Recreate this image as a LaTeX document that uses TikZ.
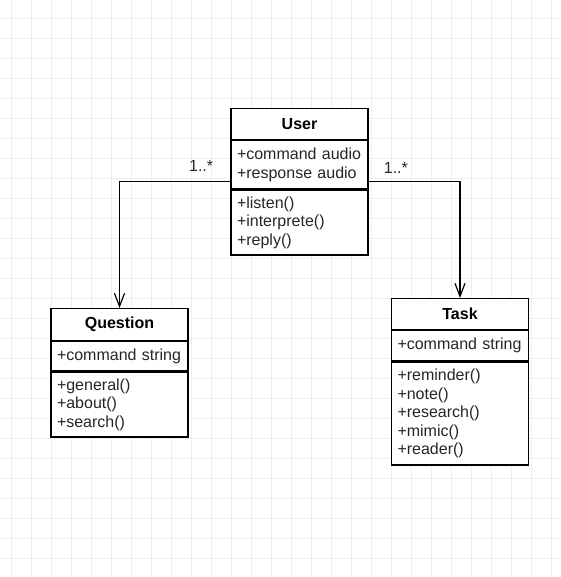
\documentclass[tikz,border=0pt]{standalone}
\usepackage{fontspec}
\setmainfont{Liberation Sans}
\usetikzlibrary{arrows.meta,positioning,fit}

\begin{document}
\begin{tikzpicture}[x=0.75pt,y=-0.75pt,node distance=0pt,
    >={Straight Barb[length=9.75pt,width=7.5pt]},
    font=\fontsize{12pt}{13.8pt}\selectfont,
    gridline/.style={gray!13,line width=0.6pt},
    classtitle/.style={draw,line width=0.9pt,fill=white,minimum width=102.75pt,
      inner sep=0pt,font=\fontsize{12pt}{13.8pt}\selectfont\bfseries},
    classpart/.style={draw,line width=0.9pt,fill=white,text width=93.75pt,
      inner xsep=4.5pt,inner ysep=0pt,align=left,text=black!85},
    assoc/.style={->,line width=0.9pt},
    mult/.style={anchor=base,inner sep=0pt,text=black!85}]
    %% background and grid
    \useasboundingbox (0,0) rectangle (560,577);
    \fill[white] (0,0) rectangle (560,577);
    \foreach \k in {0,...,27} {
      \draw[gridline] (11.7+20*\k,0) -- (11.7+20*\k,577);
      \draw[gridline] (0,18.3+20*\k) -- (560,18.3+20*\k);
    }
    %% classes
    \node (user) [classtitle, minimum height=23.25pt, anchor=north] at (299.5,108) {User};
    \node (userattr) [classpart, below=of user, minimum height=36pt]
      {+command audio\\+response audio};
    \node (usermeth) [classpart, below=of userattr, minimum height=48.75pt]
      {+listen()\\+interprete()\\+reply()};
    \node (userbox) [fit=(user)(usermeth), inner sep=0pt] {};

    \node (question) [classtitle, minimum height=24pt, anchor=north] at (119.5,308) {Question};
    \node (questionattr) [classpart, below=of question, minimum height=21.75pt]
      {+command string};
    \node (questionmeth) [classpart, below=of questionattr, minimum height=48.75pt]
      {+general()\\+about()\\+search()};

    \node (task) [classtitle, minimum height=23.25pt, anchor=north] at (460,298) {Task};
    \node (taskattr) [classpart, below=of task, minimum height=22.5pt]
      {+command string};
    \node (taskmeth) [classpart, below=of taskattr, minimum height=77.25pt]
      {+reminder()\\+note()\\+research()\\+mimic()\\+reader()};
    %% associations
    \draw[assoc] (userbox.west) node[mult, xshift=-21.75pt, yshift=7.5pt] {1..*}
      -| (question.north);
    \draw[assoc] (userbox.east) node[mult, xshift=20.25pt, yshift=6pt] {1..*}
      -| (task.north);
\end{tikzpicture}
\end{document}
